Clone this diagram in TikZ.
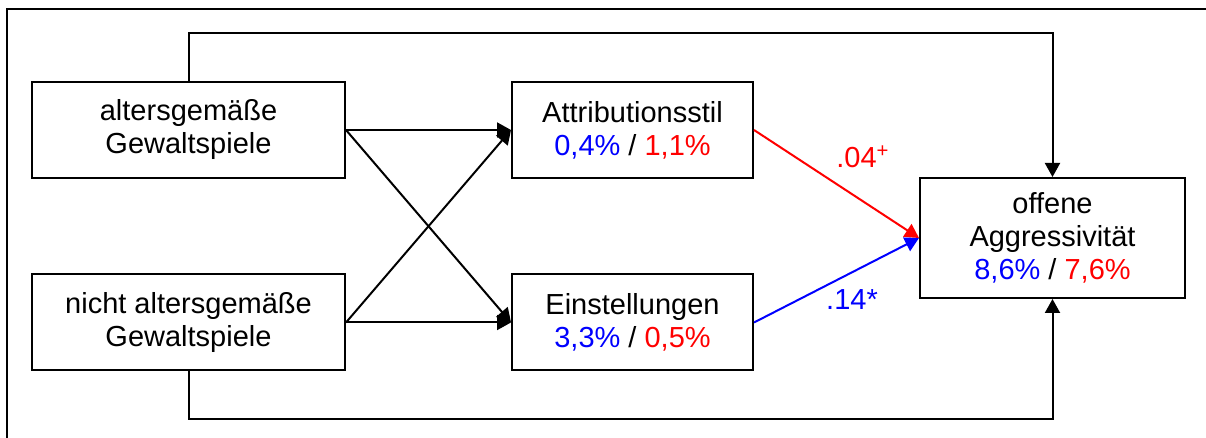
\documentclass[tikz,border=0pt]{standalone}
\usepackage{fontspec}
\setmainfont{Liberation Sans}
\usetikzlibrary{arrows.meta}

\definecolor{pblue}{RGB}{0,0,255}
\definecolor{pred}{RGB}{255,0,0}

\tikzset{
	box/.style={shape=rectangle,draw=black,line width=1pt,align=center,inner sep=0pt,
		font=\fontsize{14.5}{16.5}\selectfont},
	path/.style={line width=1pt,-{Triangle[length=7pt,width=7.5pt]}},
	coef/.style={font=\fontsize{14.5}{16.5}\selectfont,inner sep=0pt}
}

\begin{document}
\begin{tikzpicture}[x=0.5pt,y=-0.5pt]
	
	\useasboundingbox (0,0) rectangle (1206,438);
	\clip (0,0) rectangle (1206,438);
	\draw[line width=1pt] (7,9) rectangle (1230,460);
	
	\node[box,minimum width=156.5pt,minimum height=48pt] (ag)    at (188.5, 130)   {altersgemäße\\Gewaltspiele};
	\node[box,minimum width=156.5pt,minimum height=48pt] (nag)   at (188.5, 322.5) {nicht altersgemäße\\Gewaltspiele};
	\node[box,minimum width=120.5pt,minimum height=48pt] (attr)  at (632.5, 130)   {Attributionsstil\\\textcolor{pblue}{0,4\%} / \textcolor{pred}{1,1\%}};
	\node[box,minimum width=120.5pt,minimum height=48pt] (einst) at (632.5, 322.5) {Einstellungen\\\textcolor{pblue}{3,3\%} / \textcolor{pred}{0,5\%}};
	\node[box,minimum width=132.5pt,minimum height=60pt] (aggr)  at (1052.5, 238)  {offene\\Aggressivität\\\textcolor{pblue}{8,6\%} / \textcolor{pred}{7,6\%}};
	
	\node[coef,text=pred]  (c1) at (863, 157) {.04\textsuperscript{+}};
	\node[coef,text=pblue] (c2) at (852, 300) {.14*};
	
	\draw[path] (ag.east)  -- (attr.west);
	\draw[path] (ag.east)  -- (einst.west);
	\draw[path] (nag.east) -- (attr.west);
	\draw[path] (nag.east) -- (einst.west);
	\draw[path,draw=pred,fill=pred]   (attr.east)  -- (aggr.west);
	\draw[path,draw=pblue,fill=pblue] (einst.east) -- (aggr.west);
	\draw[path] (ag.north)  -- ++(0,-48) -| (aggr.north);
	\draw[path] (nag.south) -- ++(0,48)  -| (aggr.south);
	
\end{tikzpicture}
\end{document}
